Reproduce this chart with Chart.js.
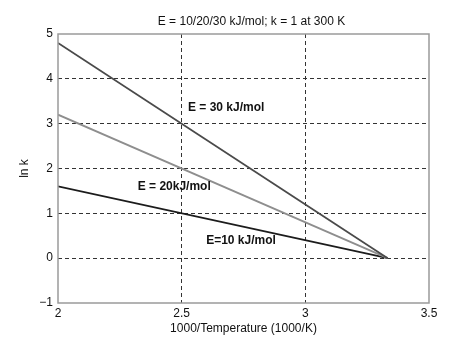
<!DOCTYPE html>
<html>
<head>
<meta charset="utf-8">
<script src="https://cdn.jsdelivr.net/npm/chart.js@4"></script>
<style>
  html, body { margin: 0; padding: 0; background: #fff; }
  #wrap { width: 474px; height: 354px; }
</style>
</head>
<body>
<div id="wrap"><canvas id="arr"></canvas></div>
<script>
// 1000/T values where each line starts and ends (k = 1 at 300 K)
const invTemp = [2, 3.333];
const lnk30 = [4.8, 0];
const lnk20 = [3.2, 0];
const lnk10 = [1.6, 0];
const seriesNames = ["E = 30 kJ/mol", "E = 20kJ/mol", "E=10 kJ/mol"];
const xTicks = [2, 2.5, 3, 3.5];
const yTicks = [-1, 0, 1, 2, 3, 4, 5];
const chartTitle = "E = 10/20/30 kJ/mol; k = 1 at 300 K";

const FONT = "'Liberation Sans', Arial, Helvetica, sans-serif";

function pts(ys) {
  return invTemp.map((x, i) => ({ x: x, y: ys[i] }));
}

// inline labels, placed in data coordinates
const lineLabels = {
  id: "lineLabels",
  afterDatasetsDraw(chart) {
    const { ctx, scales: { x, y } } = chart;
    const spots = [[2.68, 3.36], [2.47, 1.6], [2.74, 0.4]];
    ctx.save();
    ctx.font = "bold 12px " + FONT;
    ctx.fillStyle = "#111";
    ctx.textAlign = "center";
    ctx.textBaseline = "middle";
    seriesNames.forEach((t, i) => {
      ctx.fillText(t, x.getPixelForValue(spots[i][0]), y.getPixelForValue(spots[i][1]));
    });
    ctx.restore();
  }
};

// grey box round the plot, and the title over it
const frame = {
  id: "frame",
  afterDraw(chart) {
    const { ctx, chartArea: a } = chart;
    ctx.save();
    ctx.strokeStyle = "#9a9a9a";
    ctx.lineWidth = 1.5;
    ctx.strokeRect(a.left, a.top, a.right - a.left, a.bottom - a.top);
    ctx.font = "12px " + FONT;
    ctx.fillStyle = "#111";
    ctx.textAlign = "center";
    ctx.textBaseline = "middle";
    ctx.fillText(chartTitle, (a.left + a.right) / 2 + 8, a.top - 12);
    ctx.restore();
  }
};

function gridColor(c) {
  const s = c.scale;
  if (c.tick && (c.tick.value === s.min || c.tick.value === s.max)) return "rgba(0,0,0,0)";
  return "#333";
}

new Chart(document.getElementById("arr"), {
  type: "line",
  data: {
    datasets: [
      { label: seriesNames[0], data: pts(lnk30), borderColor: "#4a4a4a", borderWidth: 1.8, pointRadius: 0, fill: false },
      { label: seriesNames[1], data: pts(lnk20), borderColor: "#8e8e8e", borderWidth: 1.8, pointRadius: 0, fill: false },
      { label: seriesNames[2], data: pts(lnk10), borderColor: "#1c1c1c", borderWidth: 1.8, pointRadius: 0, fill: false }
    ]
  },
  options: {
    responsive: true,
    maintainAspectRatio: false,
    animation: false,
    layout: { padding: { left: 0, right: 45, top: 34, bottom: 0 } },
    plugins: {
      legend: { display: false },
      tooltip: { enabled: false },
      title: { display: false }
    },
    scales: {
      x: {
        type: "linear",
        min: 2,
        max: 3.5,
        afterBuildTicks: (s) => { s.ticks = xTicks.map(v => ({ value: v })); },
        afterFit: (s) => { s.height = 51; },
        ticks: {
          color: "#111",
          font: { family: FONT, size: 12 },
          padding: 3,
          maxRotation: 0,
          callback: (v) => String(v)
        },
        grid: { color: gridColor, lineWidth: 1, drawTicks: false },
        border: { display: false, dash: [4, 3] },
        title: {
          display: true,
          text: "1000/Temperature (1000/K)",
          color: "#111",
          font: { family: FONT, size: 12 },
          align: "center",
          padding: { top: 0, bottom: 18 }
        }
      },
      y: {
        type: "linear",
        min: -1,
        max: 5,
        afterBuildTicks: (s) => { s.ticks = yTicks.map(v => ({ value: v })); },
        afterFit: (s) => { s.width = 58; },
        ticks: {
          color: "#111",
          font: { family: FONT, size: 12 },
          padding: 5,
          callback: (v) => String(v).replace("-", "\u2212")
        },
        grid: { color: gridColor, lineWidth: 1, drawTicks: false },
        border: { display: false, dash: [4, 3] },
        title: {
          display: true,
          text: "ln k",
          color: "#111",
          font: { family: FONT, size: 12 },
          padding: { top: 17, bottom: 0 }
        }
      }
    }
  },
  plugins: [lineLabels, frame]
});
</script>
</body>
</html>
